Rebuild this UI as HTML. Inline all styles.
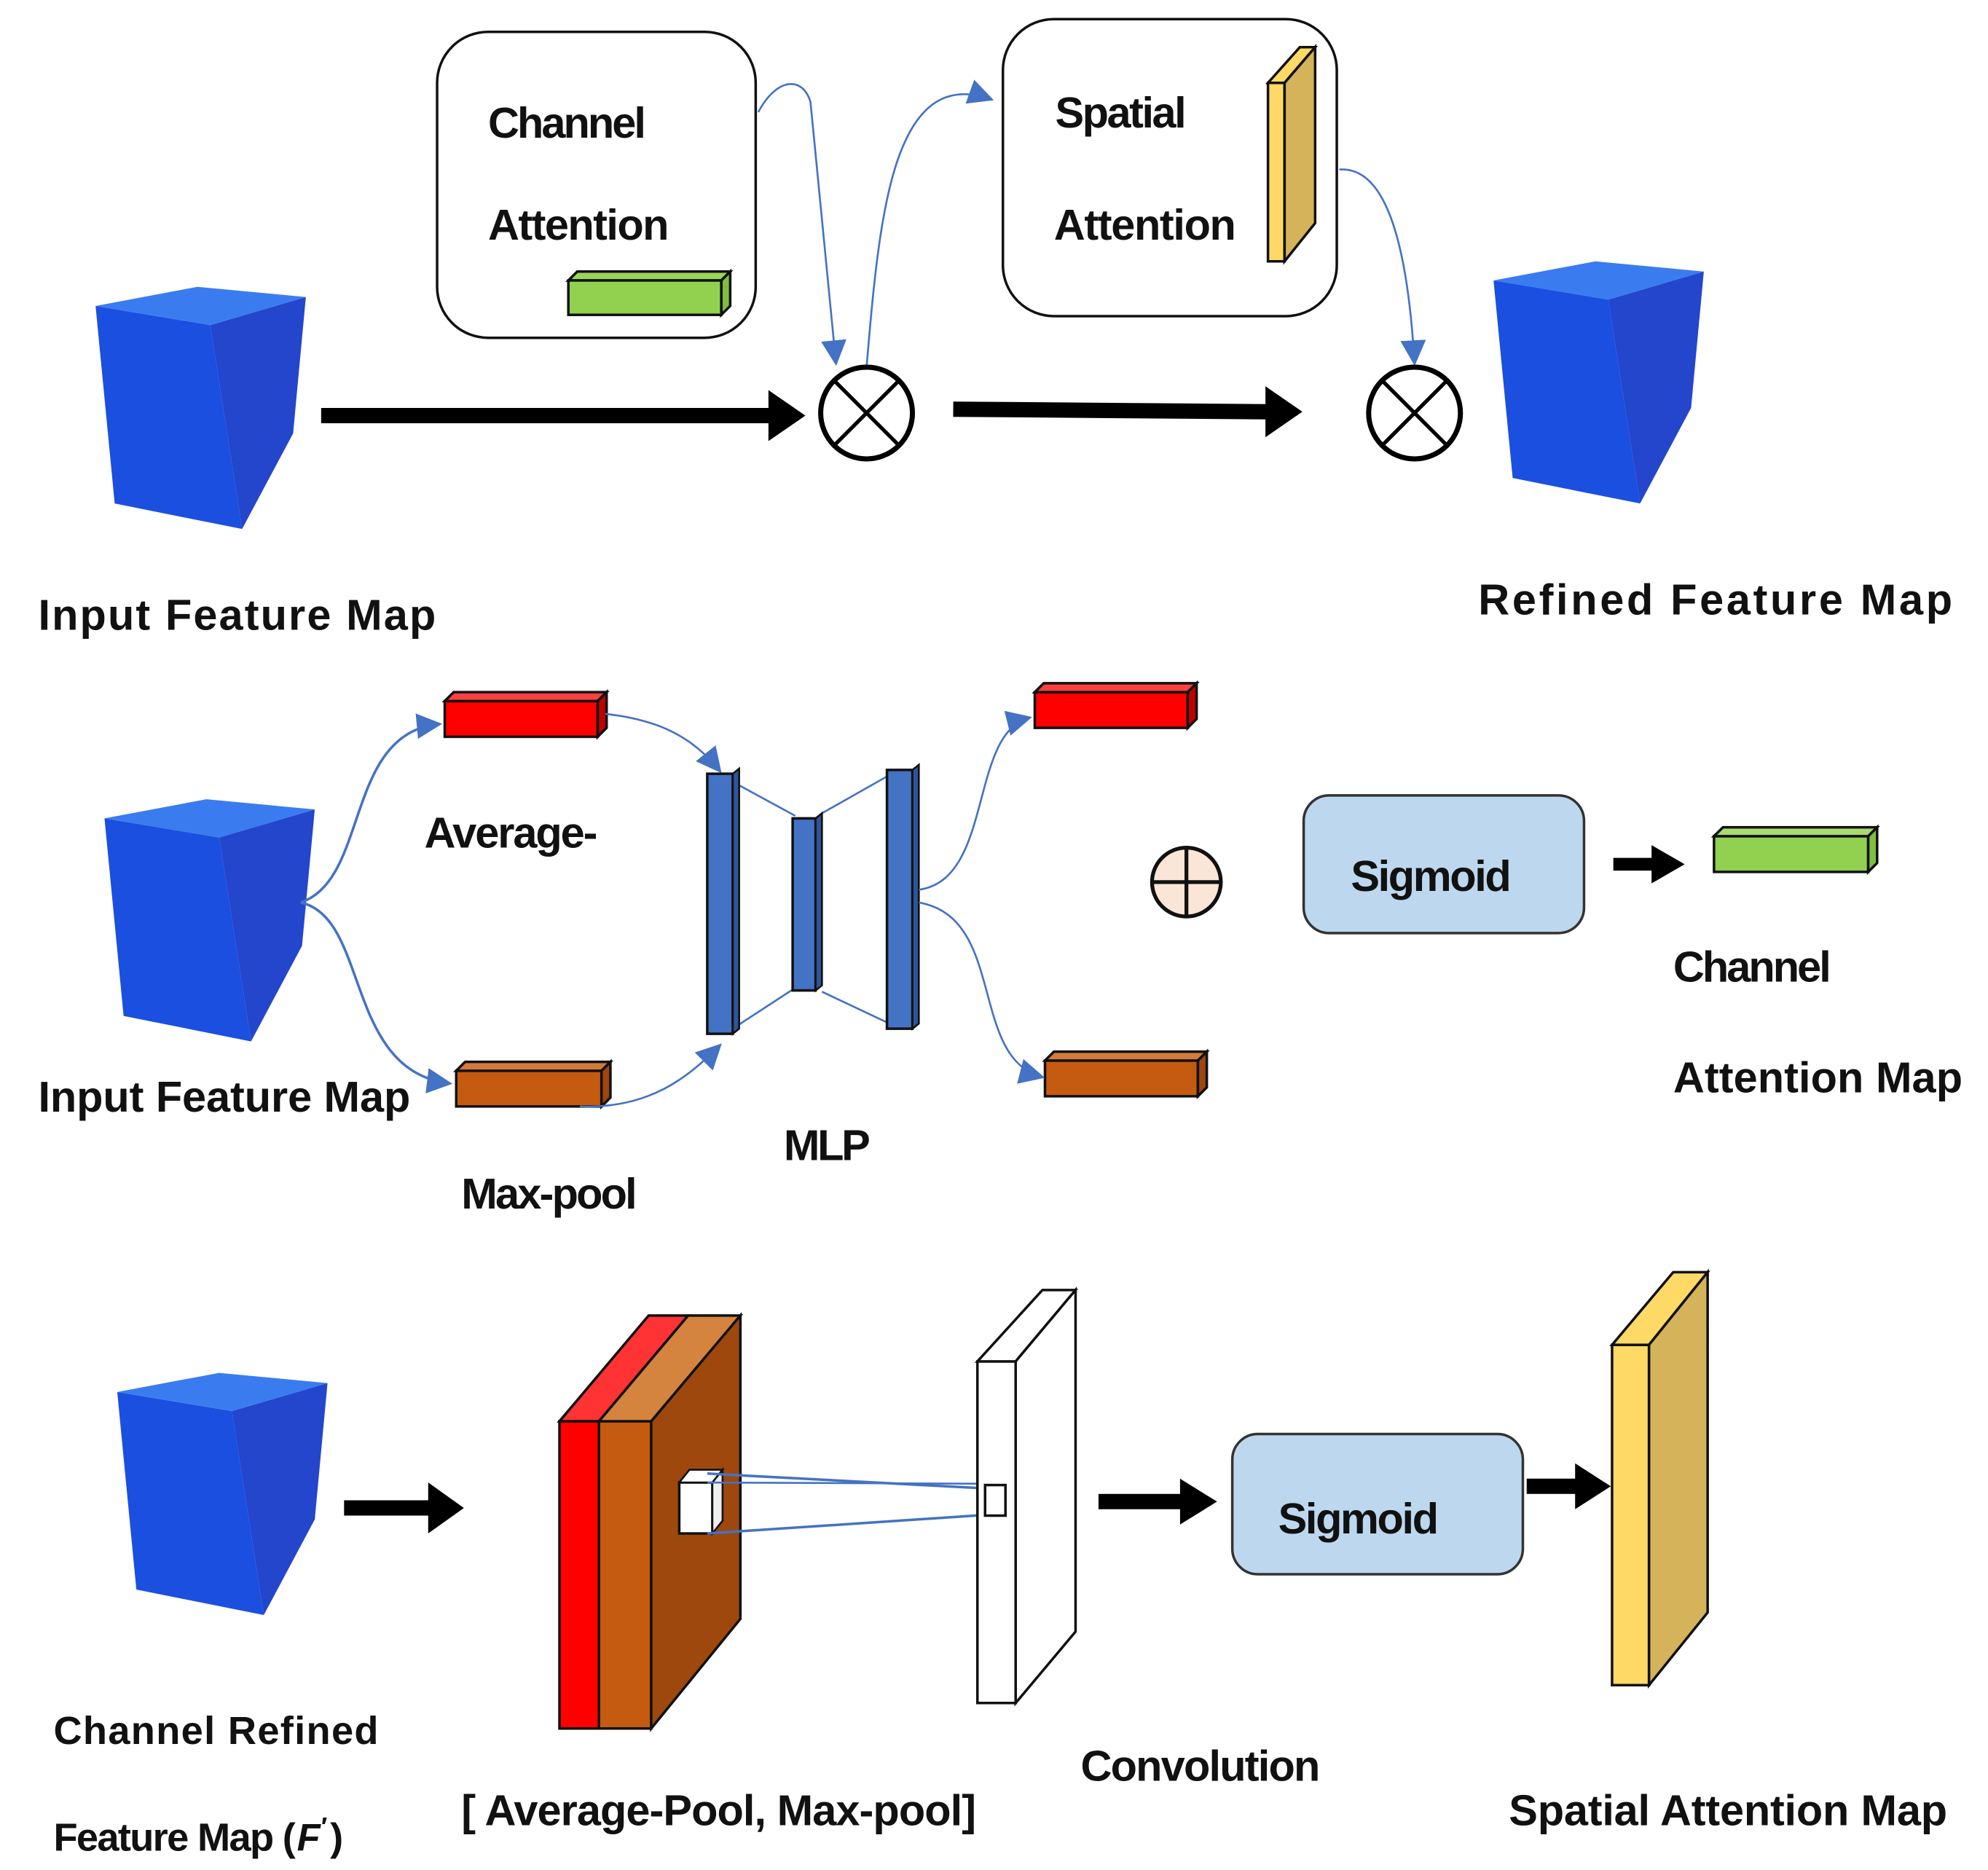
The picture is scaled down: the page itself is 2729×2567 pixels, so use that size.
<!DOCTYPE html>
<html><head><meta charset="utf-8"><style>
html,body{margin:0;padding:0;background:#fff;}
svg{display:block;}
text{font-family:"Liberation Sans",Arial,sans-serif;font-weight:bold;fill:#111;}
</style></head><body>
<svg width="2729" height="2567" viewBox="0 0 1560 1467" preserveAspectRatio="none" xmlns="http://www.w3.org/2000/svg">
<defs>
<marker id="ba" markerWidth="10" markerHeight="10" refX="8" refY="5" orient="auto" markerUnits="userSpaceOnUse"><path d="M0,0 L20,5 L0,10 z" transform="scale(0.5,1)" fill="#4472c4"/></marker>
<marker id="bb" viewBox="0 0 10 10" markerWidth="20" markerHeight="20" refX="9" refY="5" orient="auto" markerUnits="userSpaceOnUse"><path d="M0,0 L10,5 L0,10 z" fill="#4472c4"/></marker>
<g id="cube">
<polygon points="0,15 90,30 115,190 15,170" fill="#1a4fe0"/>
<polygon points="90,30 165,8 155,115 115,190" fill="#2346cc"/>
<polygon points="0,15 80,0 165,8 90,30" fill="#3a7cf0"/>
</g>
</defs>

<!-- Row 1 -->
<use href="#cube" x="75" y="225"/>
<use href="#cube" x="1172" y="205"/>
<rect x="343" y="25" width="250" height="240" rx="40" fill="#fff" stroke="#111" stroke-width="2"/>
<text x="383" y="108" font-size="34" textLength="124">Channel</text>
<text x="383" y="188" font-size="34" textLength="142">Attention</text>
<polygon points="446,220 566,220 573,213 453,213" fill="#9bd65a" stroke="#111" stroke-width="2"/>
<polygon points="566,220 573,213 573,240 566,247" fill="#7fbf40" stroke="#111" stroke-width="2"/>
<rect x="446" y="220" width="120" height="27" fill="#92d050" stroke="#111" stroke-width="2"/>

<rect x="787" y="15" width="262" height="233" rx="40" fill="#fff" stroke="#111" stroke-width="2"/>
<text x="828" y="100" font-size="34" textLength="103">Spatial</text>
<text x="827" y="188" font-size="34" textLength="143">Attention</text>
<polygon points="995,65 1008,65 1008,205 995,205" fill="#ffd966" stroke="#111" stroke-width="2"/>
<polygon points="995,65 1020,37 1032,37 1008,65" fill="#ffd966" stroke="#111" stroke-width="2"/>
<polygon points="1008,65 1032,37 1032,175 1008,205" fill="#d4b35a" stroke="#111" stroke-width="2"/>

<path d="M595,88 C610,60 630,60 636,80 L656,285" fill="none" stroke="#4472c4" stroke-width="1.5" marker-end="url(#bb)"/>
<path d="M680,288 C690,170 700,50 778,78" fill="none" stroke="#4472c4" stroke-width="1.5" marker-end="url(#bb)"/>
<path d="M1051,133 C1090,130 1105,200 1110,285" fill="none" stroke="#4472c4" stroke-width="1.5" marker-end="url(#bb)"/>

<line x1="252" y1="326" x2="605" y2="326" stroke="#000" stroke-width="12"/>
<polygon points="603,306 632,326 603,346" fill="#000"/>
<line x1="748" y1="321" x2="995" y2="323" stroke="#000" stroke-width="12"/>
<polygon points="993,303 1022,323 993,343" fill="#000"/>

<circle cx="680" cy="324" r="36" fill="#fff" stroke="#000" stroke-width="4"/>
<line x1="655" y1="299" x2="705" y2="349" stroke="#000" stroke-width="3"/>
<line x1="705" y1="299" x2="655" y2="349" stroke="#000" stroke-width="3"/>
<circle cx="1110" cy="324" r="36" fill="#fff" stroke="#000" stroke-width="4"/>
<line x1="1085" y1="299" x2="1135" y2="349" stroke="#000" stroke-width="3"/>
<line x1="1135" y1="299" x2="1085" y2="349" stroke="#000" stroke-width="3"/>

<text x="30" y="494" font-size="34" textLength="312">Input  Feature  Map</text>
<text x="1160" y="482" font-size="34" textLength="372">Refined   Feature   Map</text>

<!-- Row 2 -->
<use href="#cube" x="82" y="627"/>
<path d="M236,708 C290,690 270,575 345,568" fill="none" stroke="#4472c4" stroke-width="2" marker-end="url(#bb)"/>
<path d="M236,708 C290,720 270,840 353,850" fill="none" stroke="#4472c4" stroke-width="2" marker-end="url(#bb)"/>

<rect x="349" y="550" width="120" height="28" fill="#ff0000" stroke="#111" stroke-width="2"/>
<polygon points="349,550 356,543 476,543 469,550" fill="#ff4040" stroke="#111" stroke-width="2"/>
<polygon points="469,550 476,543 476,571 469,578" fill="#c00000" stroke="#111" stroke-width="2"/>
<rect x="358" y="840" width="114" height="28" fill="#c55a11" stroke="#111" stroke-width="2"/>
<polygon points="358,840 365,833 479,833 472,840" fill="#d47a3a" stroke="#111" stroke-width="2"/>
<polygon points="472,840 479,833 479,861 472,868" fill="#9e4510" stroke="#111" stroke-width="2"/>
<rect x="812" y="543" width="120" height="28" fill="#ff0000" stroke="#111" stroke-width="2"/>
<polygon points="812,543 819,536 939,536 932,543" fill="#ff4040" stroke="#111" stroke-width="2"/>
<polygon points="932,543 939,536 939,564 932,571" fill="#c00000" stroke="#111" stroke-width="2"/>
<rect x="820" y="832" width="120" height="28" fill="#c55a11" stroke="#111" stroke-width="2"/>
<polygon points="820,832 827,825 947,825 940,832" fill="#d47a3a" stroke="#111" stroke-width="2"/>
<polygon points="940,832 947,825 947,853 940,860" fill="#9e4510" stroke="#111" stroke-width="2"/>

<path d="M475,560 C520,565 545,580 565,605" fill="none" stroke="#4472c4" stroke-width="1.5" marker-end="url(#bb)"/>
<path d="M455,868 C510,870 540,845 565,820" fill="none" stroke="#4472c4" stroke-width="1.5" marker-end="url(#bb)"/>

<!-- MLP -->
<line x1="578" y1="615" x2="624" y2="640" stroke="#4472c4" stroke-width="1.5"/>
<line x1="578" y1="805" x2="624" y2="775" stroke="#4472c4" stroke-width="1.5"/>
<line x1="645" y1="638" x2="698" y2="608" stroke="#4472c4" stroke-width="1.5"/>
<line x1="645" y1="778" x2="698" y2="803" stroke="#4472c4" stroke-width="1.5"/>
<rect x="555" y="607" width="20" height="204" fill="#4472c4" stroke="#111" stroke-width="2"/>
<polygon points="575,607 580,603 580,807 575,811" fill="#2f5597" stroke="#111" stroke-width="1.5"/>
<rect x="622" y="642" width="18" height="135" fill="#4472c4" stroke="#111" stroke-width="2"/>
<polygon points="640,642 645,638 645,773 640,777" fill="#2f5597" stroke="#111" stroke-width="1.5"/>
<rect x="696" y="604" width="20" height="203" fill="#4472c4" stroke="#111" stroke-width="2"/>
<polygon points="716,604 721,600 721,803 716,807" fill="#2f5597" stroke="#111" stroke-width="1.5"/>

<path d="M721,698 C780,690 760,575 808,563" fill="none" stroke="#4472c4" stroke-width="1.5" marker-end="url(#bb)"/>
<path d="M721,708 C790,720 760,830 818,845" fill="none" stroke="#4472c4" stroke-width="1.5" marker-end="url(#bb)"/>

<text x="333" y="665" font-size="34" textLength="136">Average-</text>
<text x="30" y="872" font-size="34" textLength="292">Input  Feature  Map</text>
<text x="362" y="948" font-size="34" textLength="138">Max-pool</text>
<text x="615" y="910" font-size="34" textLength="68">MLP</text>

<circle cx="931" cy="692" r="27" fill="#fbe5d6" stroke="#111" stroke-width="3"/>
<line x1="931" y1="665" x2="931" y2="719" stroke="#111" stroke-width="3"/>
<line x1="904" y1="692" x2="958" y2="692" stroke="#111" stroke-width="3"/>

<rect x="1023" y="624" width="220" height="108" rx="20" fill="#bdd7ee" stroke="#333" stroke-width="2"/>
<text x="1060" y="699" font-size="34" textLength="126">Sigmoid</text>
<line x1="1266" y1="678" x2="1300" y2="678" stroke="#000" stroke-width="10"/>
<polygon points="1296,663 1322,678 1296,693" fill="#000"/>
<rect x="1345" y="656" width="121" height="28" fill="#92d050" stroke="#111" stroke-width="2"/>
<polygon points="1345,656 1352,649 1473,649 1466,656" fill="#a9d971" stroke="#111" stroke-width="2"/>
<polygon points="1466,656 1473,649 1473,677 1466,684" fill="#7fbf40" stroke="#111" stroke-width="2"/>
<text x="1313" y="770" font-size="34" textLength="124">Channel</text>
<text x="1313" y="857" font-size="34" textLength="227">Attention  Map</text>

<!-- Row 3 -->
<use href="#cube" x="92" y="1077"/>
<line x1="270" y1="1183" x2="340" y2="1183" stroke="#000" stroke-width="12"/>
<polygon points="336,1163 364,1183 336,1203" fill="#000"/>

<polygon points="439,1115 470,1115 470,1356 439,1356" fill="#ff0000" stroke="#111" stroke-width="2"/>
<polygon points="439,1115 509,1032 540,1032 470,1115" fill="#ff3333" stroke="#111" stroke-width="2"/>
<polygon points="470,1115 511,1115 511,1356 470,1356" fill="#c55a11" stroke="#111" stroke-width="2"/>
<polygon points="470,1115 540,1032 581,1032 511,1115" fill="#d4843f" stroke="#111" stroke-width="2"/>
<polygon points="511,1115 581,1032 581,1270 511,1356" fill="#9e480e" stroke="#111" stroke-width="2"/>
<rect x="533" y="1163" width="26" height="40" fill="#fff" stroke="#111" stroke-width="2"/>
<polygon points="533,1163 541,1153 567,1153 559,1163" fill="#fff" stroke="#111" stroke-width="1.5"/>
<polygon points="559,1163 567,1153 567,1193 559,1203" fill="#eee" stroke="#111" stroke-width="1.5"/>
<line x1="555" y1="1156" x2="780" y2="1168" stroke="#4472c4" stroke-width="2"/>
<line x1="555" y1="1163" x2="780" y2="1164" stroke="#4472c4" stroke-width="1.5"/>
<line x1="555" y1="1203" x2="780" y2="1188" stroke="#4472c4" stroke-width="2"/>

<polygon points="767,1068 797,1068 797,1336 767,1336" fill="#fff" stroke="#111" stroke-width="2"/>
<polygon points="767,1068 818,1012 844,1012 797,1068" fill="#fff" stroke="#111" stroke-width="2"/>
<polygon points="797,1068 844,1012 844,1280 797,1336" fill="#fff" stroke="#111" stroke-width="2"/>
<rect x="773" y="1165" width="16" height="24" fill="#fff" stroke="#111" stroke-width="2"/>

<line x1="862" y1="1178" x2="930" y2="1178" stroke="#000" stroke-width="12"/>
<polygon points="926,1160 955,1178 926,1196" fill="#000"/>
<rect x="967" y="1125" width="228" height="110" rx="20" fill="#bdd7ee" stroke="#333" stroke-width="2"/>
<text x="1003" y="1203" font-size="34" textLength="126">Sigmoid</text>
<line x1="1198" y1="1166" x2="1240" y2="1166" stroke="#000" stroke-width="12"/>
<polygon points="1236,1148 1264,1166 1236,1184" fill="#000"/>

<polygon points="1265,1055 1294,1055 1294,1322 1265,1322" fill="#ffd966" stroke="#111" stroke-width="2"/>
<polygon points="1265,1055 1313,998 1340,998 1294,1055" fill="#ffd966" stroke="#111" stroke-width="2"/>
<polygon points="1294,1055 1340,998 1340,1265 1294,1322" fill="#d4b35a" stroke="#111" stroke-width="2"/>

<text x="42" y="1368" font-size="31" textLength="255">Channel    Refined</text>
<text x="42" y="1452" font-size="31" textLength="190">Feature Map (</text>
<text x="233" y="1452" font-size="30" font-style="italic" font-family="Liberation Serif,serif">F</text>
<text x="252" y="1440" font-size="20">′</text>
<text x="259" y="1452" font-size="31">)</text>
<text x="362" y="1432" font-size="34" textLength="404">[ Average-Pool,  Max-pool]</text>
<text x="848" y="1397" font-size="34" textLength="188">Convolution</text>
<text x="1184" y="1432" font-size="34" textLength="344">Spatial  Attention  Map</text>
</svg>
</body></html>
